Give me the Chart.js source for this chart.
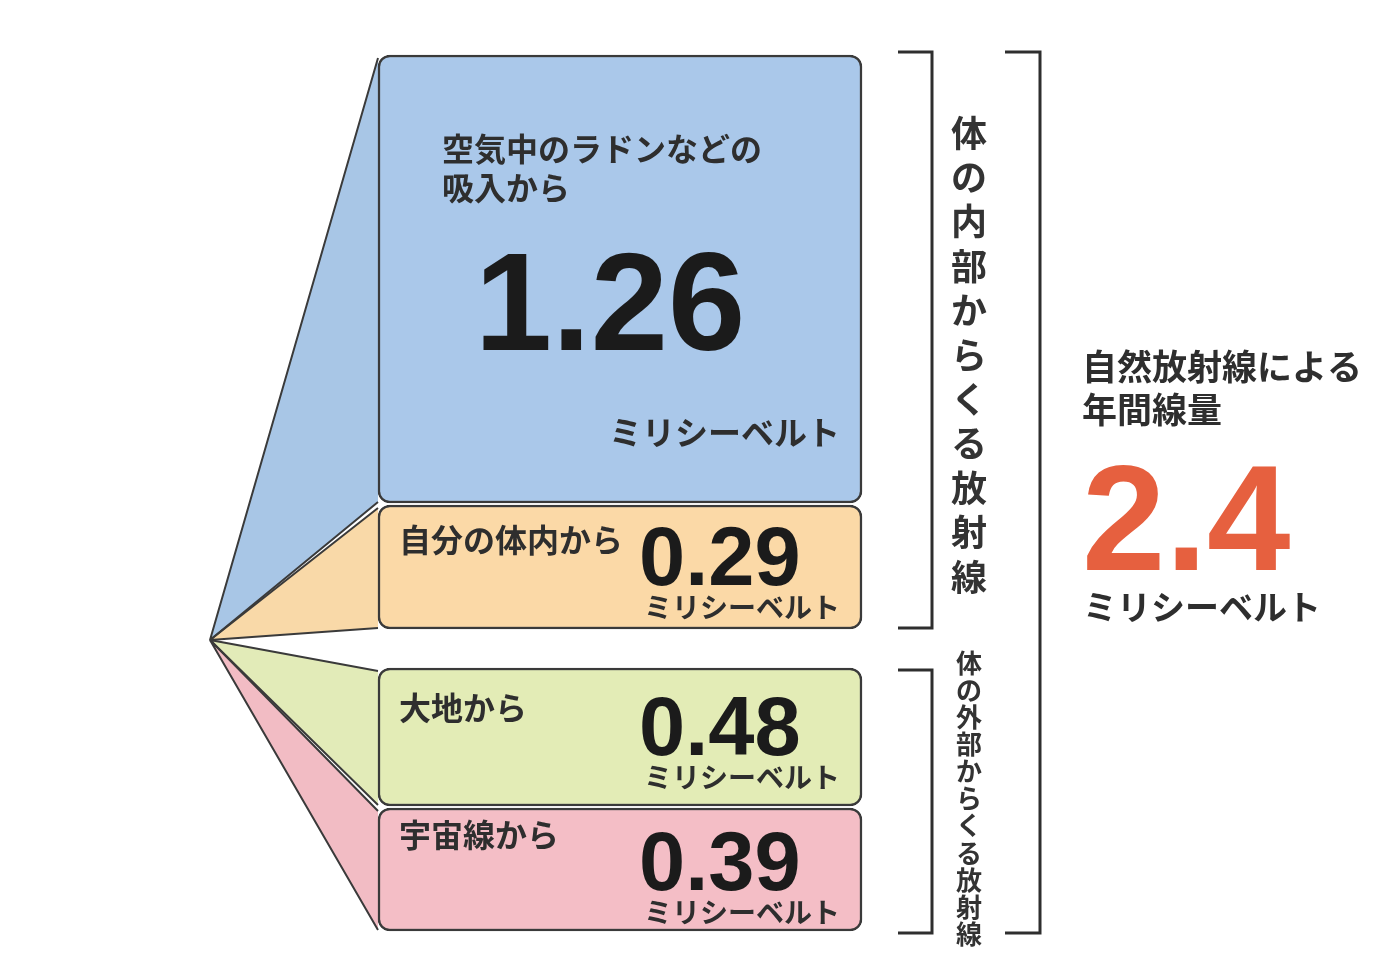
<!DOCTYPE html>
<html lang="ja">
<head>
<meta charset="utf-8">
<title>自然放射線による年間線量</title>
<script src="https://cdn.jsdelivr.net/npm/chart.js@4/dist/chart.umd.min.js"></script>
<style>
  html, body { margin: 0; padding: 0; background: #fff; }
  #wrap { width: 1400px; height: 971px; }
</style>
</head>
<body>
<div id="wrap"><canvas id="chart" width="1400" height="971"></canvas></div>
<script>
// sources of natural radiation and their yearly dose (mSv)
const sources = [['空気中のラドンなどの', '吸入から'], ['自分の体内から'], ['大地から'], ['宇宙線から']];
const doses = [1.26, 0.29, 0.48, 0.39];
const totalDose = 2.4;
const unitLabel = 'ミリシーベルト';
const totalTitle = ['自然放射線による', '年間線量'];
const groupLabels = ['体の内部からくる放射線', '体の外部からくる放射線'];

// schematic box extents on the layout axis (not proportional to dose)
const boxTop = [0, 4.50, 6.13, 7.53];
const boxBottom = [4.48, 5.74, 7.51, 8.76];
const boxColumn = 6.2;
const fanApex = [2.1, 5.85];

const BOX_COLORS = ['#aac8ea', '#fbd9a7', '#e3ecb6', '#f4bec6'];
const FAN_COLORS = ['#a8c6e6', '#f9d9a8', '#e2ebb8', '#f2bcc4'];
const LINE = '#3a3a3a';
const TEXT = '#2e2e2e';
const RED = '#e6603f';
const JP = '"Noto Sans CJK JP", "Noto Sans", sans-serif';
const NUM = '"Liberation Sans", Arial, sans-serif';

function boxRect(bar) {
    return {
        left: bar.x - bar.width / 2,
        right: bar.x + bar.width / 2,
        top: Math.min(bar.y, bar.base),
        bottom: Math.max(bar.y, bar.base),
    };
}

const fanPlugin = {
    id: 'fan',
    beforeDatasetsDraw(chart) {
        const { ctx, scales } = chart;
        const ax = scales.x.getPixelForValue(fanApex[0]);
        const ay = scales.y.getPixelForValue(fanApex[1]);
        const bars = chart.getDatasetMeta(0).data;
        ctx.save();
        bars.forEach((bar, i) => {
            const r = boxRect(bar);
            ctx.beginPath();
            ctx.moveTo(ax, ay);
            ctx.lineTo(r.left, r.top + 3);
            ctx.lineTo(r.left, r.bottom - 1);
            ctx.closePath();
            ctx.fillStyle = FAN_COLORS[i];
            ctx.fill();
        });
        ctx.strokeStyle = LINE;
        ctx.lineWidth = 2;
        bars.forEach((bar) => {
            const r = boxRect(bar);
            ctx.beginPath();
            ctx.moveTo(ax, ay);
            ctx.lineTo(r.left, r.top + 3);
            ctx.moveTo(ax, ay);
            ctx.lineTo(r.left, r.bottom - 1);
            ctx.stroke();
        });
        ctx.restore();
    },
};

function bracket(ctx, x1, x2, top, bottom) {
    ctx.beginPath();
    ctx.moveTo(x1, top);
    ctx.lineTo(x2, top);
    ctx.lineTo(x2, bottom);
    ctx.lineTo(x1, bottom);
    ctx.stroke();
}

function verticalText(ctx, text, cx, cy0, step, size) {
    ctx.font = `bold ${size}px ${JP}`;
    ctx.textAlign = 'center';
    ctx.textBaseline = 'middle';
    [...text].forEach((ch, k) => ctx.fillText(ch, cx, cy0 + k * step));
}

const labelPlugin = {
    id: 'labels',
    afterDatasetsDraw(chart) {
        const { ctx } = chart;
        const bars = chart.getDatasetMeta(0).data;
        const rects = bars.map(boxRect);
        ctx.save();
        ctx.fillStyle = TEXT;

        // big box
        const b = rects[0];
        ctx.font = `bold 32px ${JP}`;
        ctx.textAlign = 'left';
        ctx.textBaseline = 'middle';
        sources[0].forEach((line, k) => ctx.fillText(line, b.left + 64, b.top + 94 + k * 39));
        ctx.font = `bold 139px ${NUM}`;
        ctx.textAlign = 'center';
        ctx.textBaseline = 'alphabetic';
        ctx.fillStyle = '#1b1b1b';
        ctx.fillText(doses[0].toFixed(2), (b.left + b.right) / 2 - 10, b.top + 295);
        ctx.fillStyle = TEXT;
        ctx.font = `bold 33px ${JP}`;
        ctx.textAlign = 'right';
        ctx.textBaseline = 'middle';
        ctx.fillText(unitLabel, b.right - 22, b.top + 377);

        // small boxes
        const labelDy = [0, 35, 40, 27];
        const numDy = [0, 80, 87, 82];
        for (let i = 1; i < rects.length; i++) {
            const r = rects[i];
            ctx.fillStyle = TEXT;
            ctx.font = `bold 32px ${JP}`;
            ctx.textAlign = 'left';
            ctx.textBaseline = 'middle';
            ctx.fillText(sources[i][0], r.left + 21, r.top + labelDy[i]);
            ctx.fillStyle = '#1b1b1b';
            ctx.font = `bold 83px ${NUM}`;
            ctx.textAlign = 'left';
            ctx.textBaseline = 'alphabetic';
            ctx.fillText(doses[i].toFixed(2), r.left + 261, r.top + numDy[i]);
            ctx.fillStyle = TEXT;
            ctx.font = `bold 28px ${JP}`;
            ctx.textAlign = 'right';
            ctx.textBaseline = 'middle';
            ctx.fillText(unitLabel, r.right - 22, r.top + numDy[i] + 22);
        }

        // brackets
        ctx.strokeStyle = '#2e2e2e';
        ctx.lineWidth = 3;
        const right = rects[0].right;
        bracket(ctx, right + 36, right + 70, rects[0].top - 3, rects[1].bottom - 1);
        bracket(ctx, right + 36, right + 70, rects[2].top + 2, rects[3].bottom + 2);
        bracket(ctx, right + 143, right + 178, rects[0].top - 3, rects[3].bottom + 2);

        ctx.fillStyle = '#333';
        verticalText(ctx, groupLabels[0], right + 107, rects[0].top + 78, 44.4, 36);
        verticalText(ctx, groupLabels[1], right + 107, rects[2].top - 5, 27.1, 26);

        // total
        ctx.fillStyle = TEXT;
        ctx.font = `bold 35px ${JP}`;
        ctx.textAlign = 'left';
        ctx.textBaseline = 'middle';
        totalTitle.forEach((line, k) => ctx.fillText(line, 1082, 367 + k * 43));
        ctx.fillStyle = RED;
        ctx.font = `bold 150px ${NUM}`;
        ctx.textBaseline = 'alphabetic';
        ctx.fillText(totalDose.toFixed(1), 1082, 570);
        ctx.fillStyle = TEXT;
        ctx.font = `bold 34px ${JP}`;
        ctx.textBaseline = 'middle';
        ctx.fillText(unitLabel, 1083, 607);
        ctx.restore();
    },
};

new Chart(document.getElementById('chart'), {
    type: 'bar',
    data: {
        datasets: [{
            data: doses.map((d, i) => ({ x: boxColumn, y: [boxTop[i], boxBottom[i]], dose: d })),
            backgroundColor: BOX_COLORS,
            borderColor: LINE,
            borderWidth: 2.5,
            borderRadius: 12,
            borderSkipped: false,
            barThickness: 484,
            clip: false,
        }],
    },
    options: {
        responsive: false,
        animation: false,
        events: [],
        layout: { padding: { top: 55, bottom: 40, left: 0, right: 0 } },
        plugins: { legend: { display: false }, tooltip: { enabled: false } },
        scales: {
            x: { type: 'linear', min: 0, max: 14, offset: false, display: false },
            y: { type: 'linear', min: 0, max: 8.76, reverse: true, display: false },
        },
    },
    plugins: [fanPlugin, labelPlugin],
});
</script>
</body>
</html>
